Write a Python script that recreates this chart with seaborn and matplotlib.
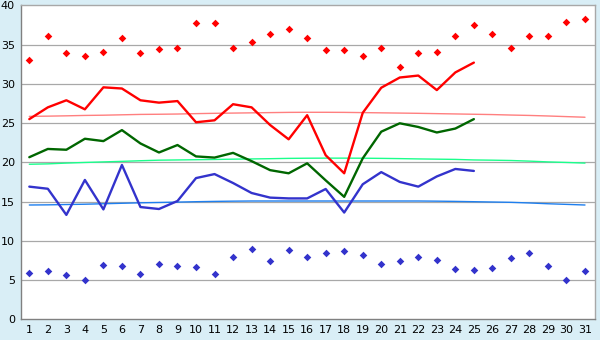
import matplotlib
matplotlib.use("Agg")
import matplotlib.pyplot as plt
import seaborn as sns
import pandas as pd
import numpy as np

days = list(range(1, 32))
days_obs = list(range(1, 26))

max_temp = [33.0, 36.1, 33.9, 33.5, 34.0, 35.8, 33.9, 34.4, 34.5, 37.7,
            37.7, 34.5, 35.3, 36.3, 37.0, 35.8, 34.25, 34.25, 33.6, 34.5,
            32.2, 33.9, 34.0, 36.15, 37.5, 36.4, 34.5, 36.15, 36.15, 37.9, 38.2]
min_temp = [5.9, 6.2, 5.7, 5.0, 6.9, 6.8, 5.8, 7.1, 6.8, 6.6,
            5.8, 8.0, 9.0, 7.45, 8.85, 8.0, 8.5, 8.7, 8.2, 7.1,
            7.45, 8.0, 7.6, 6.45, 6.3, 6.55, 7.85, 8.5, 6.8, 5.05, 6.2]

mean_max = [25.5, 27.0, 27.9, 26.75, 29.55, 29.4, 27.9, 27.6, 27.8, 25.1,
            25.35, 27.4, 27.0, 24.75, 22.93, 26.0, 20.9, 18.6, 26.3, 29.5,
            30.8, 31.05, 29.2, 31.45, 32.7]
mean_avg = [20.65, 21.7, 21.6, 23.0, 22.7, 24.1, 22.4, 21.25, 22.2, 20.75,
            20.6, 21.2, 20.15, 19.0, 18.6, 19.87, 17.7, 15.6, 20.5, 23.9,
            24.97, 24.5, 23.8, 24.3, 25.5]
mean_min = [16.9, 16.63, 13.3, 17.75, 14.0, 19.66, 14.3, 14.05, 15.07, 17.99,
            18.5, 17.36, 16.09, 15.5, 15.4, 15.4, 16.6, 13.6, 17.2, 18.75,
            17.5, 16.9, 18.2, 19.15, 18.9]

norm_max = [25.85, 25.88, 25.92, 25.97, 26.0, 26.05, 26.1, 26.12, 26.15, 26.2,
            26.24, 26.27, 26.3, 26.33, 26.36, 26.37, 26.37, 26.36, 26.33, 26.3,
            26.27, 26.24, 26.2, 26.16, 26.12, 26.08, 26.02, 25.97, 25.9, 25.82, 25.74]
norm_avg = [19.75, 19.8, 19.9, 19.98, 20.05, 20.12, 20.2, 20.27, 20.3, 20.33,
            20.36, 20.4, 20.43, 20.46, 20.5, 20.52, 20.53, 20.53, 20.52, 20.5,
            20.47, 20.43, 20.4, 20.37, 20.3, 20.27, 20.23, 20.15, 20.05, 19.98, 19.9]
norm_min = [14.56, 14.58, 14.62, 14.66, 14.72, 14.78, 14.84, 14.88, 14.93, 14.98,
            15.02, 15.05, 15.07, 15.07, 15.07, 15.07, 15.07, 15.07, 15.07, 15.07,
            15.07, 15.07, 15.05, 15.02, 14.98, 14.94, 14.9, 14.82, 14.72, 14.64, 14.56]

y_ticks = [0, 5, 10, 15, 20, 25, 30, 35, 40]

sns.set_style("white")
plt.rcParams['font.family'] = ['DejaVu Sans']

bg = "#d9eef6"
fig = plt.figure(figsize=(6, 3.4), dpi=100, facecolor=bg)
ax = fig.add_axes([20.7/600, 20.7/340, (595-20.7)/600, (319.3-5.3)/340])
ax.set_facecolor("white")

for v in y_ticks[1:-1]:
    ax.axhline(v, color="#a8a8a8", lw=0.9, zorder=0)

dn = pd.DataFrame({"day": days, "nmax": norm_max, "navg": norm_avg, "nmin": norm_min,
                   "tmax": max_temp, "tmin": min_temp})
do = pd.DataFrame({"day": days_obs, "mmax": mean_max, "mavg": mean_avg, "mmin": mean_min})

sns.lineplot(data=dn, x="day", y="nmax", color="#ff7f7f", lw=1.0, ax=ax, zorder=1)
sns.lineplot(data=dn, x="day", y="navg", color="#1aff8c", lw=1.0, ax=ax, zorder=1)
sns.lineplot(data=dn, x="day", y="nmin", color="#1e7fef", lw=1.0, ax=ax, zorder=1)

sns.lineplot(data=do, x="day", y="mmax", color="#ff0000", lw=1.7, ax=ax, zorder=3)
sns.lineplot(data=do, x="day", y="mavg", color="#006600", lw=1.7, ax=ax, zorder=3)
sns.lineplot(data=do, x="day", y="mmin", color="#3333cc", lw=1.7, ax=ax, zorder=3)

sns.scatterplot(data=dn, x="day", y="tmax", color="#ff0000", marker="D", s=15,
                linewidth=0, ax=ax, zorder=4)
sns.scatterplot(data=dn, x="day", y="tmin", color="#3333cc", marker="D", s=15,
                linewidth=0, ax=ax, zorder=4)

ax.set_xlim(0.535, 31.54)
ax.set_ylim(0, 40)
ax.set_xticks(days)
ax.set_xticklabels([str(d) for d in days])
ax.set_yticks(y_ticks)
ax.set_xlabel("")
ax.set_ylabel("")
ax.tick_params(axis="both", labelsize=8, colors="#000000", length=2.6, width=0.8,
               direction="out", pad=1.5)
ax.tick_params(axis="x", color="#404040")
ax.tick_params(axis="y", color="#404040")
for s in ["left", "bottom"]:
    ax.spines[s].set_color("#808080")
    ax.spines[s].set_linewidth(1.0)
for s in ["right", "top"]:
    ax.spines[s].set_color("#a8a8a8")
    ax.spines[s].set_linewidth(1.0)
    ax.spines[s].set_visible(True)

fig.savefig("out.png", dpi=100, facecolor=bg)
